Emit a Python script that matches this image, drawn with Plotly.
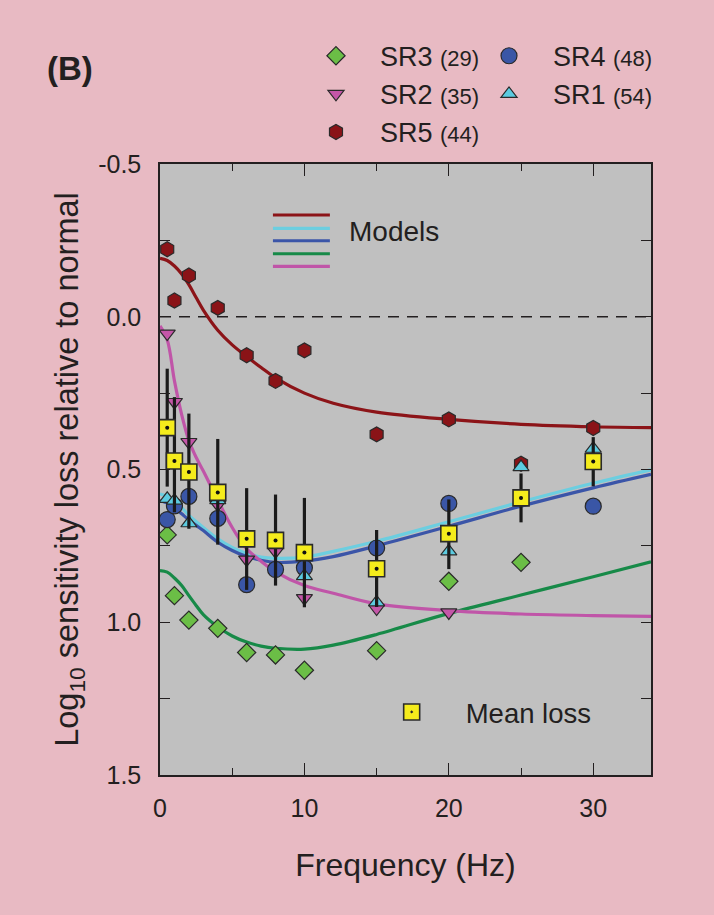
import plotly.graph_objects as go

# ---- measured loss per patient (log10 units, positive = loss) ----
freq = [0.5, 1, 2, 4, 6, 8, 10, 15, 20, 25, 30]

sr3 = [0.714, 0.913, 0.993, 1.020, 1.099, 1.107, 1.157, 1.093, 0.866, 0.804, None]
sr2 = [0.055, 0.279, 0.410, 0.615, 0.795, 0.768, 0.921, 0.955, 0.968, None, None]
sr5 = [-0.221, -0.053, -0.135, -0.029, 0.126, 0.210, 0.110, 0.385, 0.336, 0.481, 0.364]
sr4 = [0.664, 0.619, 0.588, 0.660, 0.877, 0.827, 0.822, 0.757, 0.611, None, 0.620]
sr1 = [0.596, 0.602, 0.676, 0.600, None, None, 0.849, 0.935, 0.768, 0.492, 0.432]

mean_loss = [0.363, 0.472, 0.508, 0.575, 0.727, 0.732, 0.772, 0.825, 0.710, 0.593, 0.474]
err_toward_top = [0.193, 0.209, 0.191, 0.175, 0.166, 0.150, 0.179, 0.127, 0.112, 0.080, 0.080]
err_toward_bottom = [0.193, 0.168, 0.186, 0.171, 0.167, 0.148, 0.179, 0.125, 0.116, 0.080, 0.081]

# ---- model fits ----
model_freq = [0, 0.5, 1, 1.5, 2, 2.5, 3, 4, 5, 6, 7, 8, 10, 12, 15, 20, 25, 30, 34]
model_sr5 = [-0.191, -0.184, -0.166, -0.140, -0.105, -0.063, -0.022, 0.044, 0.092, 0.130,
             0.166, 0.200, 0.250, 0.283, 0.312, 0.336, 0.352, 0.360, 0.363]
model_sr1 = [0.580, 0.588, 0.605, 0.625, 0.650, 0.670, 0.690, 0.727, 0.755, 0.775,
             0.787, 0.791, 0.787, 0.768, 0.735, 0.671, 0.606, 0.545, 0.501]
model_sr4 = [0.602, 0.610, 0.625, 0.645, 0.665, 0.683, 0.700, 0.738, 0.765, 0.785,
             0.797, 0.804, 0.800, 0.785, 0.750, 0.686, 0.620, 0.560, 0.516]
model_sr3 = [0.831, 0.836, 0.855, 0.880, 0.913, 0.945, 0.975, 1.015, 1.045, 1.065,
             1.078, 1.085, 1.088, 1.075, 1.040, 0.971, 0.911, 0.851, 0.802]
model_sr2 = [0.030, 0.075, 0.210, 0.320, 0.405, 0.460, 0.505, 0.600, 0.690, 0.760,
             0.800, 0.835, 0.880, 0.905, 0.940, 0.962, 0.973, 0.978, 0.981]

y_tickvals = [-0.5, 0.0, 0.5, 1.0, 1.5]
y_ticktext = ["-0.5", "0.0", "0.5", "1.0", "1.5"]
x_tickvals = [0, 10, 20, 30]

FONT = "Liberation Sans, Arial, Helvetica, sans-serif"
INK = "#231f20"
PINK = "#e8bac3"
GRAY = "#c0c0c0"

C_RED = "#8c1418"
C_CYAN = "#6ccee0"
C_BLUE = "#3b55a8"
C_GREEN = "#178a48"
C_MAG = "#c055a8"

fig = go.Figure()

# model curves
for ys, col in [(model_sr5, C_RED), (model_sr1, C_CYAN), (model_sr4, C_BLUE),
                (model_sr3, C_GREEN), (model_sr2, C_MAG)]:
    fig.add_trace(go.Scatter(x=model_freq, y=ys, mode="lines",
                             line=dict(color=col, width=3.2, shape="spline", smoothing=1.0),
                             showlegend=False, hoverinfo="skip"))

def lab(name, n):
    return name + " <span style='font-size:22px'>(" + str(n) + ")</span>"

mk_line = dict(color="#2a2a2a", width=1.2)

# left key column: SR3, SR2, SR5; right key column: SR4, SR1
fig.add_trace(go.Scatter(x=freq, y=sr5, mode="markers", name=lab("SR5", 44), legendrank=3,
                         legend="legend",
                         marker=dict(symbol="hexagon", size=15, color="#8a1317", line=mk_line)))
fig.add_trace(go.Scatter(x=freq, y=sr3, mode="markers", name=lab("SR3", 29), legendrank=1,
                         legend="legend",
                         marker=dict(symbol="diamond", size=14, color="#6bbe46", line=mk_line)))
fig.add_trace(go.Scatter(x=freq, y=sr2, mode="markers", name=lab("SR2", 35), legendrank=2,
                         legend="legend",
                         marker=dict(symbol="triangle-down", size=14, color="#c456a8", line=mk_line)))
fig.add_trace(go.Scatter(x=freq, y=sr4, mode="markers", name=lab("SR4", 48), legendrank=1,
                         legend="legend3",
                         marker=dict(symbol="circle", size=16, color="#3a56a6", line=mk_line)))
fig.add_trace(go.Scatter(x=freq, y=sr1, mode="markers", name=lab("SR1", 54), legendrank=2,
                         legend="legend3",
                         marker=dict(symbol="triangle-up", size=14, color="#5ccbe0", line=mk_line)))

# mean loss with spread
fig.add_trace(go.Scatter(
    x=freq, y=mean_loss, mode="markers", name="Mean loss",
    legend="legend2",
    error_y=dict(type="data", symmetric=False, array=err_toward_bottom,
                 arrayminus=err_toward_top, color="#1a1a1a", thickness=3.2, width=0),
    marker=dict(symbol="square-dot", size=16, color="#f5ec1c",
                line=dict(color="#2a2a2a", width=1.6))))
fig.add_trace(go.Scatter(x=freq, y=mean_loss, mode="markers", showlegend=False,
                         hoverinfo="skip",
                         marker=dict(symbol="circle", size=4, color="#111111")))

# zero-loss reference
fig.add_shape(type="line", xref="paper", x0=0, x1=1, yref="y", y0=0, y1=0,
              line=dict(color=INK, width=1.4, dash="11px,8px"), layer="below")

# "Models" key
key_cols = [C_RED, C_CYAN, C_BLUE, C_GREEN, C_MAG]
key_y = [0.9165, 0.8947, 0.8744, 0.8531, 0.8325]
for col, yy in zip(key_cols, key_y):
    fig.add_shape(type="line", xref="paper", yref="paper", x0=0.230, x1=0.346,
                  y0=yy, y1=yy, line=dict(color=col, width=3.2))
fig.add_annotation(text="Models", xref="paper", yref="paper", x=0.381, y=0.889,
                   xanchor="left", yanchor="middle", showarrow=False,
                   font=dict(size=28, color=INK, family=FONT))

fig.add_annotation(text="<b>(B)</b>", xref="paper", yref="paper", x=-0.183, y=1.157,
                   xanchor="center", yanchor="middle", showarrow=False,
                   font=dict(size=33, color=INK, family=FONT))

axis_common = dict(showline=True, linecolor=INK, linewidth=1.5, mirror="ticks",
                   ticks="inside", tickcolor=INK, tickwidth=1.4, showgrid=False,
                   zeroline=False, tickfont=dict(size=25, color=INK, family=FONT))

fig.update_xaxes(range=[0, 34], tickvals=x_tickvals, ticklen=12,
                 minor=dict(dtick=5, ticks="inside", ticklen=7, tickcolor=INK, tickwidth=1.4),
                 ticklabelstandoff=10,
                 title=dict(text="Frequency (Hz)", font=dict(size=32, color=INK, family=FONT),
                            standoff=33),
                 **axis_common)
fig.update_yaxes(range=[1.5, -0.5], tickvals=y_tickvals, ticktext=y_ticktext, ticklen=10,
                 minor=dict(dtick=0.25, ticks="inside", ticklen=10, tickcolor=INK, tickwidth=1.4),
                 ticklabelstandoff=12,
                 title=dict(text="Log<sub>10</sub> sensitivity loss relative to normal",
                            font=dict(size=32.5, color=INK, family=FONT), standoff=10),
                 **axis_common)

key_font = dict(size=27, color=INK, family=FONT)
fig.update_layout(
    width=714, height=915,
    margin=dict(l=160, r=63, t=164, b=140, autoexpand=False),
    paper_bgcolor=PINK, plot_bgcolor=GRAY,
    font=dict(family=FONT, color=INK),
    legend=dict(x=0.2688, xanchor="left", y=1.2165, yanchor="top", itemwidth=78,
                bgcolor="rgba(0,0,0,0)", font=key_font, tracegroupgap=0),
    legend3=dict(x=0.6212, xanchor="left", y=1.2165, yanchor="top", itemwidth=78,
                 bgcolor="rgba(0,0,0,0)", font=key_font, tracegroupgap=0),
    legend2=dict(x=0.4026, xanchor="left", y=0.103, yanchor="middle", itemwidth=98,
                 bgcolor="rgba(0,0,0,0)", font=dict(size=27.5, color=INK, family=FONT)),
)

fig.write_html("out.html")
